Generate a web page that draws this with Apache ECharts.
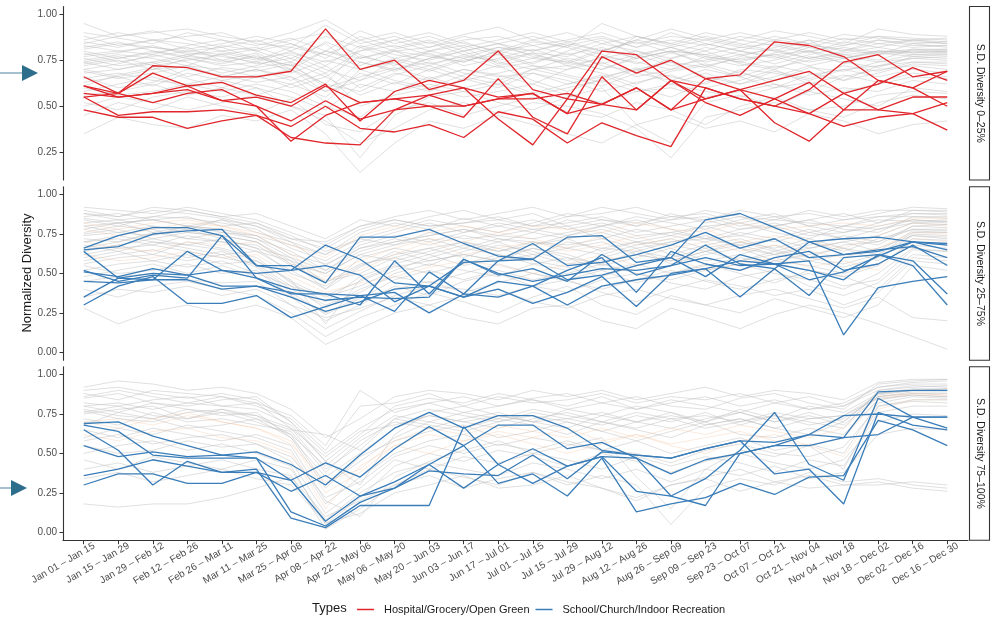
<!DOCTYPE html>
<html><head><meta charset="utf-8">
<script src="https://cdn.jsdelivr.net/npm/echarts@6/dist/echarts.min.js"></script>
<style>html,body{margin:0;padding:0;background:#fff}#c{width:994px;height:621px}</style>
</head><body><div id="c"></div>
<script>
const categories = ['Jan 01 – Jan 15','Jan 15 – Jan 29','Jan 29 – Feb 12','Feb 12 – Feb 26','Feb 26 – Mar 11','Mar 11 – Mar 25','Mar 25 – Apr 08','Apr 08 – Apr 22','Apr 22 – May 06','May 06 – May 20','May 20 – Jun 03','Jun 03 – Jun 17','Jun 17 – Jul 01','Jul 01 – Jul 15','Jul 15 – Jul 29','Jul 29 – Aug 12','Aug 12 – Aug 26','Aug 26 – Sep 09','Sep 09 – Sep 23','Sep 23 – Oct 07','Oct 07 – Oct 21','Oct 21 – Nov 04','Nov 04 – Nov 18','Nov 18 – Dec 02','Dec 02 – Dec 16','Dec 16 – Dec 30'];
const typeNames = ['Hospital/Grocery/Open Green','School/Church/Indoor Recreation'];
const panelLabels = ['S.D. Diversity 0–25%','S.D. Diversity 25–75%','S.D. Diversity 75–100%'];
const yTicksTop = [0.25,0.50,0.75,1.00];
const yTicksAll = [0.00,0.25,0.50,0.75,1.00];

const panel1Gray = [
[0.78,0.80,0.82,0.79,0.77,0.74,0.80,0.72,0.83,0.78,0.75,0.80,0.84,0.77,0.73,0.80,0.85,0.79,0.74,0.78,0.81,0.76,0.80,0.84,0.82,0.83],
[0.72,0.75,0.70,0.76,0.73,0.78,0.68,0.75,0.70,0.74,0.79,0.72,0.76,0.81,0.75,0.70,0.77,0.82,0.76,0.72,0.75,0.80,0.73,0.78,0.80,0.79],
[0.85,0.82,0.86,0.84,0.80,0.82,0.76,0.68,0.80,0.86,0.80,0.83,0.78,0.85,0.82,0.76,0.88,0.84,0.80,0.86,0.83,0.79,0.85,0.82,0.86,0.85],
[0.68,0.70,0.74,0.66,0.71,0.69,0.73,0.60,0.66,0.71,0.65,0.70,0.67,0.62,0.70,0.74,0.66,0.70,0.73,0.68,0.64,0.71,0.69,0.74,0.76,0.75],
[0.90,0.87,0.84,0.90,0.86,0.83,0.87,0.80,0.91,0.84,0.88,0.82,0.86,0.90,0.85,0.80,0.86,0.92,0.87,0.83,0.88,0.84,0.89,0.87,0.86,0.87],
[0.63,0.66,0.61,0.68,0.64,0.60,0.55,0.48,0.62,0.58,0.66,0.60,0.64,0.57,0.62,0.67,0.60,0.55,0.63,0.69,0.62,0.58,0.66,0.70,0.72,0.70],
[0.75,0.78,0.76,0.72,0.79,0.75,0.82,0.78,0.72,0.80,0.77,0.74,0.80,0.76,0.83,0.78,0.73,0.79,0.84,0.80,0.76,0.82,0.78,0.75,0.81,0.80],
[0.80,0.76,0.79,0.82,0.75,0.79,0.70,0.58,0.74,0.69,0.76,0.82,0.73,0.79,0.77,0.84,0.80,0.74,0.71,0.77,0.82,0.86,0.76,0.80,0.78,0.78],
[0.58,0.62,0.66,0.60,0.64,0.67,0.60,0.66,0.56,0.63,0.58,0.65,0.60,0.68,0.64,0.58,0.63,0.67,0.60,0.64,0.70,0.62,0.67,0.63,0.68,0.66],
[0.95,0.88,0.90,0.92,0.88,0.85,0.90,0.97,0.86,0.90,0.84,0.89,0.93,0.86,0.82,0.95,0.88,0.84,0.90,0.86,0.91,0.88,0.84,0.92,0.89,0.88],
[0.70,0.73,0.78,0.74,0.68,0.72,0.78,0.70,0.64,0.75,0.70,0.76,0.71,0.74,0.79,0.72,0.69,0.76,0.80,0.73,0.70,0.77,0.74,0.71,0.77,0.76],
[0.45,0.52,0.48,0.55,0.50,0.46,0.54,0.40,0.36,0.48,0.52,0.45,0.50,0.55,0.47,0.44,0.52,0.48,0.40,0.50,0.55,0.48,0.44,0.52,0.56,0.54],
[0.82,0.85,0.80,0.77,0.83,0.80,0.74,0.85,0.78,0.72,0.80,0.85,0.79,0.73,0.80,0.86,0.78,0.82,0.77,0.74,0.79,0.83,0.81,0.78,0.84,0.82],
[0.66,0.60,0.63,0.70,0.67,0.63,0.66,0.52,0.70,0.64,0.60,0.67,0.72,0.64,0.58,0.65,0.71,0.62,0.68,0.62,0.66,0.72,0.64,0.68,0.73,0.72],
[0.76,0.72,0.74,0.78,0.74,0.77,0.72,0.80,0.76,0.80,0.73,0.77,0.75,0.79,0.72,0.76,0.80,0.76,0.82,0.78,0.73,0.78,0.82,0.79,0.77,0.78],
[0.35,0.44,0.40,0.38,0.45,0.42,0.48,0.35,0.14,0.30,0.42,0.38,0.45,0.40,0.35,0.30,0.40,0.45,0.38,0.42,0.36,0.46,0.42,0.35,0.40,0.42],
[0.88,0.83,0.86,0.81,0.84,0.88,0.84,0.76,0.88,0.82,0.86,0.80,0.84,0.88,0.83,0.87,0.82,0.86,0.83,0.88,0.85,0.82,0.87,0.84,0.86,0.84],
[0.61,0.67,0.71,0.65,0.60,0.66,0.70,0.62,0.58,0.67,0.72,0.66,0.62,0.70,0.66,0.61,0.68,0.64,0.70,0.66,0.60,0.67,0.70,0.66,0.70,0.68],
[0.74,0.77,0.72,0.75,0.78,0.73,0.76,0.84,0.70,0.76,0.72,0.78,0.74,0.70,0.76,0.73,0.78,0.72,0.75,0.80,0.77,0.72,0.76,0.80,0.80,0.81],
[0.52,0.48,0.55,0.58,0.55,0.60,0.50,0.45,0.22,0.45,0.55,0.58,0.52,0.48,0.55,0.60,0.40,0.30,0.52,0.56,0.50,0.58,0.54,0.50,0.60,0.58],
[0.79,0.74,0.77,0.80,0.82,0.76,0.79,0.74,0.80,0.83,0.78,0.74,0.80,0.83,0.78,0.82,0.76,0.80,0.78,0.82,0.80,0.76,0.79,0.82,0.79,0.80],
[0.69,0.65,0.68,0.72,0.70,0.66,0.62,0.55,0.68,0.62,0.70,0.64,0.68,0.72,0.67,0.63,0.70,0.74,0.66,0.62,0.69,0.65,0.72,0.69,0.74,0.73],
[0.84,0.88,0.91,0.86,0.82,0.86,0.80,0.88,0.82,0.86,0.90,0.84,0.80,0.86,0.90,0.84,0.88,0.83,0.88,0.84,0.80,0.86,0.83,0.88,0.85,0.84],
[0.56,0.58,0.62,0.56,0.60,0.56,0.62,0.68,0.50,0.56,0.60,0.55,0.58,0.62,0.56,0.52,0.58,0.60,0.55,0.58,0.62,0.56,0.60,0.58,0.64,0.62],
[0.74,0.70,0.73,0.77,0.75,0.71,0.74,0.66,0.77,0.73,0.69,0.75,0.78,0.72,0.70,0.77,0.74,0.70,0.77,0.74,0.71,0.75,0.78,0.80,0.79,0.80],
[0.81,0.84,0.82,0.80,0.78,0.81,0.86,0.90,0.76,0.81,0.85,0.78,0.82,0.80,0.85,0.88,0.82,0.90,0.84,0.80,0.86,0.84,0.80,0.86,0.83,0.83],
[0.65,0.68,0.64,0.62,0.66,0.70,0.64,0.72,0.60,0.68,0.64,0.70,0.66,0.68,0.62,0.66,0.70,0.66,0.62,0.70,0.68,0.64,0.70,0.72,0.74,0.74],
[0.77,0.79,0.83,0.78,0.80,0.76,0.72,0.62,0.82,0.76,0.80,0.76,0.82,0.78,0.74,0.81,0.76,0.80,0.78,0.75,0.78,0.80,0.76,0.79,0.81,0.81],
[0.70,0.66,0.70,0.72,0.66,0.70,0.66,0.58,0.64,0.70,0.74,0.68,0.64,0.70,0.72,0.68,0.62,0.69,0.72,0.66,0.72,0.68,0.64,0.72,0.76,0.77],
[0.86,0.90,0.86,0.88,0.90,0.84,0.82,0.94,0.84,0.88,0.82,0.86,0.88,0.83,0.86,0.90,0.84,0.88,0.86,0.90,0.86,0.90,0.86,0.88,0.87,0.86],
[0.60,0.56,0.58,0.62,0.58,0.62,0.58,0.50,0.44,0.58,0.62,0.58,0.62,0.56,0.60,0.64,0.58,0.62,0.58,0.55,0.60,0.63,0.58,0.62,0.66,0.65],
[0.73,0.76,0.80,0.76,0.72,0.74,0.70,0.80,0.74,0.70,0.76,0.80,0.72,0.76,0.74,0.70,0.76,0.80,0.72,0.76,0.78,0.74,0.77,0.74,0.78,0.79],
[0.50,0.55,0.52,0.48,0.52,0.56,0.50,0.42,0.30,0.38,0.48,0.52,0.46,0.52,0.50,0.46,0.38,0.22,0.44,0.48,0.52,0.48,0.50,0.56,0.58,0.57],
[0.83,0.80,0.78,0.83,0.86,0.80,0.84,0.78,0.86,0.80,0.82,0.88,0.84,0.80,0.84,0.80,0.86,0.82,0.86,0.82,0.84,0.80,0.83,0.86,0.84,0.85]
];
const panel1Red = [
[0.61,0.57,0.72,0.71,0.66,0.66,0.69,0.92,0.70,0.75,0.59,0.64,0.80,0.59,0.54,0.80,0.78,0.64,0.60,0.54,0.50,0.59,0.74,0.78,0.66,0.69],
[0.66,0.57,0.68,0.61,0.63,0.56,0.52,0.62,0.42,0.58,0.64,0.60,0.55,0.57,0.46,0.77,0.68,0.75,0.65,0.67,0.85,0.83,0.77,0.64,0.60,0.69],
[0.61,0.55,0.57,0.59,0.53,0.55,0.50,0.61,0.52,0.54,0.56,0.50,0.54,0.54,0.57,0.51,0.60,0.48,0.54,0.59,0.64,0.69,0.57,0.62,0.71,0.64],
[0.55,0.57,0.52,0.57,0.59,0.50,0.42,0.53,0.43,0.48,0.50,0.44,0.65,0.44,0.35,0.66,0.48,0.64,0.52,0.45,0.54,0.63,0.48,0.48,0.55,0.55],
[0.55,0.45,0.47,0.47,0.48,0.45,0.39,0.50,0.38,0.36,0.40,0.33,0.47,0.43,0.30,0.41,0.34,0.28,0.60,0.54,0.50,0.46,0.39,0.44,0.46,0.52],
[0.48,0.44,0.44,0.38,0.42,0.45,0.33,0.30,0.29,0.48,0.56,0.60,0.43,0.29,0.54,0.51,0.60,0.48,0.65,0.59,0.41,0.31,0.48,0.64,0.60,0.50],
[0.57,0.55,0.57,0.61,0.53,0.50,0.31,0.45,0.52,0.54,0.50,0.50,0.54,0.57,0.46,0.51,0.48,0.64,0.54,0.59,0.54,0.46,0.57,0.48,0.46,0.37]
];
const panel2Gray = [
[0.80,0.82,0.84,0.80,0.78,0.72,0.60,0.52,0.64,0.70,0.74,0.78,0.72,0.68,0.74,0.78,0.72,0.76,0.80,0.74,0.70,0.76,0.72,0.78,0.84,0.82],
[0.72,0.70,0.75,0.78,0.72,0.66,0.50,0.42,0.55,0.62,0.66,0.60,0.68,0.64,0.58,0.66,0.70,0.62,0.68,0.72,0.65,0.60,0.68,0.70,0.80,0.79],
[0.88,0.86,0.90,0.88,0.85,0.80,0.70,0.62,0.76,0.82,0.78,0.85,0.80,0.76,0.84,0.80,0.86,0.82,0.78,0.84,0.88,0.80,0.76,0.82,0.90,0.89],
[0.65,0.68,0.62,0.70,0.66,0.60,0.44,0.32,0.48,0.56,0.62,0.55,0.60,0.66,0.62,0.55,0.60,0.66,0.58,0.62,0.68,0.60,0.56,0.62,0.74,0.72],
[0.78,0.74,0.78,0.82,0.80,0.74,0.62,0.48,0.58,0.66,0.72,0.70,0.76,0.72,0.66,0.74,0.68,0.72,0.78,0.70,0.74,0.70,0.66,0.74,0.82,0.80],
[0.58,0.62,0.65,0.60,0.64,0.55,0.40,0.30,0.38,0.50,0.56,0.52,0.48,0.56,0.60,0.52,0.56,0.50,0.55,0.60,0.56,0.52,0.48,0.55,0.70,0.68],
[0.84,0.80,0.86,0.85,0.82,0.78,0.66,0.58,0.70,0.76,0.82,0.76,0.80,0.84,0.78,0.82,0.76,0.80,0.84,0.78,0.80,0.84,0.78,0.76,0.86,0.85],
[0.70,0.72,0.68,0.74,0.70,0.68,0.55,0.45,0.50,0.60,0.55,0.64,0.70,0.62,0.66,0.70,0.62,0.58,0.64,0.68,0.62,0.66,0.70,0.64,0.77,0.76],
[0.48,0.52,0.56,0.50,0.55,0.48,0.35,0.20,0.30,0.42,0.36,0.45,0.50,0.42,0.38,0.46,0.50,0.44,0.40,0.48,0.52,0.42,0.36,0.44,0.62,0.60],
[0.92,0.90,0.88,0.92,0.88,0.84,0.76,0.68,0.80,0.86,0.90,0.84,0.88,0.92,0.86,0.88,0.92,0.86,0.84,0.90,0.86,0.88,0.84,0.88,0.92,0.91],
[0.75,0.78,0.72,0.76,0.74,0.70,0.58,0.50,0.62,0.58,0.64,0.70,0.66,0.60,0.70,0.66,0.64,0.70,0.74,0.66,0.62,0.68,0.74,0.70,0.78,0.78],
[0.62,0.58,0.60,0.64,0.60,0.62,0.48,0.38,0.44,0.48,0.54,0.58,0.55,0.50,0.56,0.62,0.55,0.60,0.52,0.56,0.60,0.54,0.58,0.52,0.72,0.70],
[0.82,0.84,0.80,0.78,0.84,0.76,0.70,0.55,0.68,0.74,0.70,0.76,0.82,0.78,0.74,0.80,0.84,0.78,0.72,0.78,0.82,0.76,0.80,0.84,0.83,0.84],
[0.40,0.35,0.42,0.45,0.40,0.36,0.25,0.10,0.22,0.30,0.38,0.32,0.25,0.35,0.42,0.30,0.24,0.36,0.30,0.25,0.34,0.28,0.22,0.30,0.55,0.52],
[0.68,0.64,0.70,0.66,0.62,0.64,0.52,0.40,0.54,0.64,0.58,0.62,0.58,0.66,0.60,0.56,0.64,0.60,0.66,0.58,0.64,0.58,0.62,0.66,0.74,0.73],
[0.86,0.88,0.84,0.86,0.80,0.82,0.74,0.64,0.72,0.78,0.84,0.80,0.76,0.82,0.88,0.84,0.80,0.88,0.82,0.86,0.80,0.84,0.88,0.82,0.88,0.87],
[0.55,0.50,0.52,0.56,0.50,0.52,0.36,0.25,0.35,0.40,0.45,0.38,0.44,0.50,0.45,0.40,0.46,0.52,0.45,0.40,0.46,0.50,0.42,0.46,0.65,0.64],
[0.76,0.80,0.78,0.72,0.76,0.72,0.64,0.52,0.66,0.72,0.68,0.74,0.70,0.76,0.72,0.76,0.70,0.74,0.70,0.76,0.72,0.78,0.72,0.68,0.80,0.81],
[0.64,0.68,0.72,0.68,0.65,0.58,0.45,0.35,0.42,0.52,0.60,0.66,0.62,0.56,0.52,0.60,0.66,0.56,0.62,0.66,0.58,0.62,0.66,0.58,0.75,0.74],
[0.28,0.18,0.26,0.30,0.25,0.30,0.22,0.05,0.15,0.25,0.30,0.22,0.18,0.28,0.30,0.20,0.15,0.28,0.22,0.15,0.24,0.30,0.25,0.18,0.10,0.02],
[0.90,0.86,0.92,0.90,0.86,0.88,0.80,0.72,0.84,0.80,0.86,0.90,0.84,0.80,0.86,0.92,0.88,0.84,0.90,0.86,0.84,0.90,0.86,0.90,0.90,0.90],
[0.70,0.66,0.64,0.70,0.68,0.70,0.56,0.46,0.52,0.62,0.70,0.62,0.66,0.70,0.64,0.68,0.74,0.66,0.70,0.64,0.68,0.64,0.60,0.66,0.76,0.75],
[0.52,0.56,0.58,0.54,0.58,0.50,0.42,0.28,0.40,0.48,0.44,0.50,0.56,0.50,0.46,0.52,0.44,0.50,0.56,0.50,0.44,0.52,0.48,0.40,0.60,0.58],
[0.80,0.76,0.74,0.80,0.78,0.74,0.68,0.62,0.72,0.68,0.76,0.72,0.74,0.78,0.80,0.72,0.78,0.74,0.80,0.82,0.76,0.72,0.80,0.78,0.82,0.83],
[0.60,0.64,0.58,0.62,0.56,0.58,0.46,0.18,0.46,0.55,0.50,0.56,0.62,0.58,0.54,0.48,0.55,0.62,0.56,0.52,0.58,0.55,0.50,0.56,0.68,0.66],
[0.35,0.40,0.38,0.42,0.36,0.40,0.30,0.22,0.28,0.35,0.30,0.36,0.40,0.32,0.28,0.36,0.40,0.34,0.30,0.36,0.40,0.34,0.28,0.35,0.22,0.20],
[0.85,0.82,0.84,0.80,0.84,0.80,0.72,0.66,0.78,0.84,0.80,0.82,0.86,0.80,0.82,0.86,0.80,0.84,0.86,0.80,0.84,0.82,0.80,0.86,0.86,0.86],
[0.66,0.70,0.76,0.72,0.70,0.64,0.58,0.40,0.60,0.66,0.62,0.68,0.64,0.70,0.66,0.62,0.68,0.72,0.66,0.70,0.64,0.70,0.64,0.72,0.78,0.77],
[0.74,0.76,0.80,0.76,0.74,0.70,0.56,0.50,0.62,0.68,0.72,0.66,0.72,0.70,0.68,0.72,0.66,0.70,0.72,0.68,0.72,0.66,0.70,0.74,0.82,0.81],
[0.62,0.66,0.68,0.64,0.60,0.56,0.42,0.36,0.45,0.54,0.58,0.62,0.58,0.62,0.56,0.58,0.62,0.58,0.64,0.58,0.62,0.58,0.54,0.60,0.72,0.71],
[0.82,0.78,0.82,0.84,0.80,0.76,0.68,0.60,0.74,0.80,0.76,0.80,0.76,0.80,0.78,0.76,0.82,0.78,0.76,0.82,0.78,0.80,0.82,0.80,0.85,0.85],
[0.56,0.60,0.62,0.58,0.62,0.54,0.38,0.24,0.34,0.46,0.52,0.46,0.52,0.46,0.50,0.56,0.50,0.46,0.52,0.56,0.50,0.46,0.40,0.50,0.66,0.64],
[0.70,0.74,0.70,0.68,0.72,0.66,0.60,0.44,0.56,0.60,0.66,0.70,0.64,0.68,0.72,0.64,0.70,0.68,0.64,0.70,0.66,0.72,0.66,0.62,0.76,0.76],
[0.88,0.84,0.86,0.90,0.86,0.82,0.72,0.70,0.80,0.84,0.80,0.82,0.84,0.88,0.80,0.84,0.82,0.86,0.88,0.82,0.86,0.80,0.84,0.86,0.88,0.88],
[0.45,0.48,0.50,0.46,0.44,0.45,0.30,0.15,0.26,0.36,0.42,0.40,0.36,0.42,0.46,0.38,0.32,0.40,0.46,0.42,0.36,0.40,0.30,0.38,0.58,0.56],
[0.78,0.82,0.76,0.80,0.76,0.74,0.62,0.56,0.66,0.70,0.74,0.78,0.74,0.72,0.76,0.80,0.74,0.76,0.72,0.74,0.80,0.74,0.76,0.80,0.84,0.83]
];
const panel2Blue = [
[0.65,0.67,0.75,0.77,0.78,0.55,0.55,0.44,0.73,0.73,0.78,0.69,0.61,0.59,0.73,0.74,0.57,0.60,0.84,0.88,0.79,0.70,0.72,0.73,0.70,0.69],
[0.66,0.74,0.79,0.79,0.74,0.55,0.52,0.68,0.59,0.44,0.42,0.57,0.58,0.69,0.55,0.57,0.62,0.68,0.76,0.66,0.72,0.60,0.62,0.64,0.70,0.65],
[0.52,0.45,0.49,0.47,0.74,0.47,0.37,0.37,0.30,0.58,0.37,0.59,0.49,0.53,0.45,0.62,0.49,0.55,0.68,0.56,0.53,0.70,0.62,0.65,0.67,0.60],
[0.51,0.48,0.53,0.49,0.52,0.50,0.52,0.55,0.49,0.32,0.42,0.35,0.45,0.42,0.52,0.60,0.38,0.64,0.56,0.52,0.60,0.64,0.52,0.56,0.68,0.55],
[0.45,0.44,0.46,0.64,0.52,0.47,0.40,0.37,0.36,0.26,0.51,0.37,0.58,0.59,0.46,0.49,0.55,0.60,0.48,0.62,0.56,0.58,0.11,0.41,0.45,0.48],
[0.35,0.47,0.46,0.46,0.40,0.42,0.35,0.26,0.32,0.40,0.42,0.35,0.40,0.31,0.38,0.48,0.29,0.50,0.53,0.35,0.53,0.36,0.60,0.62,0.58,0.37],
[0.30,0.42,0.48,0.31,0.31,0.36,0.22,0.29,0.36,0.38,0.25,0.37,0.35,0.42,0.30,0.42,0.46,0.49,0.53,0.58,0.56,0.52,0.46,0.62,0.55,0.30],
[0.64,0.47,0.50,0.49,0.42,0.42,0.38,0.33,0.35,0.34,0.35,0.59,0.50,0.45,0.49,0.53,0.52,0.55,0.60,0.55,0.56,0.46,0.51,0.61,0.70,0.68]
];
const panel3Gray = [
[0.90,0.92,0.88,0.85,0.88,0.84,0.70,0.45,0.62,0.80,0.85,0.82,0.88,0.84,0.80,0.86,0.78,0.82,0.86,0.80,0.84,0.78,0.82,0.92,0.95,0.96],
[0.75,0.78,0.80,0.72,0.76,0.70,0.62,0.30,0.45,0.60,0.70,0.66,0.72,0.68,0.62,0.70,0.65,0.60,0.68,0.72,0.66,0.62,0.70,0.88,0.90,0.90],
[0.60,0.66,0.62,0.68,0.64,0.60,0.52,0.18,0.35,0.50,0.58,0.62,0.55,0.60,0.56,0.52,0.58,0.50,0.55,0.60,0.52,0.56,0.50,0.82,0.86,0.85],
[0.82,0.80,0.84,0.86,0.80,0.82,0.66,0.40,0.55,0.72,0.78,0.74,0.70,0.76,0.72,0.68,0.74,0.70,0.76,0.68,0.74,0.70,0.66,0.90,0.92,0.93],
[0.18,0.16,0.18,0.18,0.22,0.28,0.35,0.10,0.20,0.30,0.40,0.35,0.30,0.38,0.32,0.28,0.22,0.30,0.35,0.40,0.32,0.36,0.30,0.32,0.28,0.26],
[0.70,0.72,0.68,0.74,0.70,0.66,0.58,0.25,0.38,0.55,0.62,0.58,0.64,0.60,0.66,0.58,0.62,0.56,0.60,0.64,0.58,0.55,0.60,0.84,0.88,0.87],
[0.88,0.84,0.90,0.88,0.86,0.82,0.74,0.55,0.90,0.76,0.82,0.86,0.80,0.85,0.88,0.82,0.86,0.80,0.78,0.85,0.88,0.82,0.78,0.94,0.96,0.97],
[0.50,0.55,0.58,0.52,0.56,0.50,0.42,0.05,0.22,0.42,0.50,0.45,0.52,0.48,0.42,0.50,0.45,0.38,0.45,0.50,0.44,0.40,0.46,0.70,0.75,0.74],
[0.78,0.74,0.72,0.78,0.74,0.76,0.60,0.35,0.50,0.66,0.74,0.70,0.66,0.72,0.76,0.70,0.66,0.72,0.66,0.70,0.74,0.68,0.72,0.86,0.88,0.88],
[0.65,0.60,0.66,0.62,0.58,0.62,0.55,0.20,0.10,0.35,0.45,0.52,0.58,0.50,0.55,0.60,0.35,0.15,0.40,0.52,0.48,0.55,0.40,0.80,0.83,0.82],
[0.92,0.96,0.94,0.90,0.92,0.88,0.78,0.60,0.72,0.86,0.90,0.88,0.84,0.90,0.86,0.90,0.84,0.88,0.92,0.86,0.90,0.88,0.84,0.95,0.97,0.97],
[0.55,0.50,0.52,0.58,0.54,0.56,0.45,0.12,0.28,0.46,0.40,0.48,0.44,0.50,0.46,0.40,0.48,0.42,0.48,0.44,0.38,0.46,0.42,0.76,0.80,0.80],
[0.72,0.68,0.76,0.70,0.72,0.68,0.64,0.38,0.58,0.70,0.66,0.72,0.76,0.70,0.66,0.74,0.70,0.66,0.72,0.76,0.70,0.74,0.68,0.86,0.89,0.89],
[0.40,0.44,0.38,0.42,0.46,0.40,0.36,0.02,0.15,0.30,0.36,0.28,0.34,0.38,0.30,0.36,0.30,0.05,0.28,0.34,0.30,0.38,0.32,0.34,0.30,0.28],
[0.85,0.88,0.82,0.80,0.84,0.86,0.70,0.50,0.66,0.78,0.82,0.76,0.80,0.84,0.78,0.82,0.78,0.84,0.80,0.76,0.82,0.78,0.80,0.90,0.93,0.92],
[0.62,0.58,0.64,0.66,0.60,0.58,0.50,0.15,0.42,0.55,0.50,0.58,0.62,0.56,0.50,0.56,0.62,0.55,0.50,0.58,0.62,0.55,0.48,0.78,0.84,0.84],
[0.80,0.82,0.78,0.82,0.80,0.78,0.68,0.45,0.30,0.62,0.76,0.80,0.74,0.70,0.78,0.74,0.80,0.76,0.70,0.78,0.72,0.80,0.76,0.88,0.91,0.91],
[0.46,0.40,0.48,0.44,0.40,0.46,0.40,0.08,0.25,0.38,0.44,0.40,0.36,0.44,0.40,0.34,0.40,0.32,0.40,0.36,0.42,0.34,0.38,0.62,0.66,0.65],
[0.77,0.72,0.70,0.76,0.78,0.72,0.65,0.62,0.52,0.72,0.68,0.64,0.70,0.74,0.70,0.64,0.70,0.76,0.68,0.72,0.66,0.72,0.74,0.85,0.87,0.86],
[0.68,0.76,0.72,0.66,0.68,0.72,0.60,0.28,0.48,0.58,0.64,0.68,0.60,0.64,0.70,0.64,0.58,0.64,0.70,0.62,0.60,0.66,0.62,0.84,0.87,0.86],
[0.80,0.76,0.82,0.78,0.76,0.74,0.62,0.42,0.60,0.74,0.70,0.76,0.72,0.78,0.74,0.70,0.76,0.72,0.74,0.70,0.76,0.72,0.74,0.87,0.90,0.90],
[0.58,0.62,0.56,0.60,0.62,0.56,0.48,0.22,0.32,0.48,0.55,0.50,0.56,0.52,0.58,0.52,0.50,0.44,0.52,0.56,0.50,0.48,0.54,0.80,0.84,0.84],
[0.86,0.90,0.86,0.82,0.86,0.80,0.72,0.52,0.80,0.82,0.88,0.80,0.86,0.82,0.84,0.88,0.82,0.86,0.84,0.88,0.82,0.86,0.80,0.92,0.94,0.94],
[0.70,0.66,0.72,0.76,0.70,0.66,0.56,0.32,0.40,0.58,0.66,0.62,0.68,0.64,0.60,0.66,0.60,0.66,0.62,0.68,0.64,0.60,0.66,0.86,0.88,0.87],
[0.34,0.38,0.32,0.36,0.40,0.34,0.30,0.06,0.12,0.25,0.30,0.36,0.28,0.30,0.36,0.28,0.20,0.30,0.34,0.26,0.32,0.28,0.30,0.30,0.32,0.30],
[0.76,0.80,0.74,0.72,0.78,0.74,0.66,0.48,0.64,0.68,0.74,0.70,0.74,0.70,0.72,0.76,0.70,0.74,0.70,0.76,0.70,0.76,0.70,0.88,0.90,0.91]
];
const panel3Blue = [
[0.69,0.70,0.61,0.55,0.49,0.51,0.43,0.30,0.49,0.66,0.76,0.66,0.74,0.74,0.66,0.52,0.49,0.47,0.53,0.58,0.57,0.62,0.74,0.75,0.73,0.73],
[0.68,0.64,0.49,0.47,0.47,0.47,0.33,0.44,0.35,0.53,0.67,0.55,0.68,0.68,0.53,0.57,0.47,0.37,0.46,0.50,0.55,0.55,0.60,0.89,0.90,0.90],
[0.65,0.52,0.30,0.45,0.38,0.40,0.09,0.03,0.17,0.17,0.17,0.67,0.43,0.53,0.42,0.48,0.26,0.23,0.34,0.52,0.76,0.43,0.33,0.85,0.73,0.66],
[0.55,0.48,0.51,0.48,0.49,0.47,0.13,0.04,0.19,0.28,0.39,0.37,0.36,0.49,0.34,0.51,0.49,0.47,0.53,0.58,0.37,0.40,0.18,0.76,0.68,0.65],
[0.36,0.40,0.46,0.42,0.38,0.38,0.26,0.36,0.23,0.32,0.43,0.55,0.31,0.37,0.23,0.47,0.13,0.18,0.22,0.31,0.24,0.35,0.36,0.71,0.65,0.55],
[0.30,0.37,0.37,0.31,0.31,0.38,0.33,0.07,0.23,0.28,0.43,0.28,0.43,0.31,0.42,0.48,0.47,0.23,0.17,0.50,0.55,0.62,0.60,0.62,0.73,0.73]
];
const peachIdx2 = [4, 11, 21, 30];
const peachIdx3 = [5, 15, 23];

const FONT = 'Liberation Sans, Arial, sans-serif';
const panelTops = [6.5, 186.7, 366.7];
const panelH = 173.5;
const yRanges = [[0.099, 1.042], [-0.05, 1.05], [-0.05, 1.05]];
const idx = categories.map((c, i) => i);
const labelShift = 0.3;

const grids = panelTops.map(t => ({left: 63, top: t, width: 905, height: panelH}));
const xAxes = panelTops.map((t, k) => ({
  type: 'value', gridIndex: k, min: -0.6, max: 25.6,
  axisLine: {show: k === 2, onZero: false, lineStyle: {color: '#333', width: 1.1}},
  axisTick: {show: k === 2, customValues: idx, length: 4, lineStyle: {color: '#333', width: 1}},
  axisLabel: {show: k === 2, customValues: idx.map(i => i + labelShift), rotate: 30, margin: 5, fontSize: 10, color: '#4d4d4d', fontFamily: FONT,
    formatter: v => categories[Math.round(v - labelShift)]},
  splitLine: {show: false}
}));
const yAxes = yRanges.map((r, k) => {
  const ticks = k === 0 ? yTicksTop : yTicksAll;
  return {
    type: 'value', gridIndex: k, min: r[0], max: r[1],
    axisLine: {show: true, onZero: false, lineStyle: {color: '#333', width: 1.1}},
    axisTick: {show: true, customValues: ticks, length: 3.5, lineStyle: {color: '#333'}},
    axisLabel: {customValues: ticks, fontSize: 10, color: '#4d4d4d', margin: 6, fontFamily: FONT, formatter: v => v.toFixed(2)},
    splitLine: {show: false}
  };
});

const series = [];
function addLines(arr, k, name, style, z) {
  arr.forEach((vals, j) => {
    const ls = typeof style === 'function' ? style(j) : style;
    series.push({
      type: 'line', name: name, xAxisIndex: k, yAxisIndex: k, z: z,
      showSymbol: false, symbol: 'none', silent: true, animation: false,
      lineStyle: ls, itemStyle: {color: ls.color},
      data: vals.map((v, i) => [idx[i], v])
    });
  });
}
const grayStyle = {color: 'rgba(190,190,190,0.68)', width: 0.7};
const peach = {color: 'rgba(244,196,160,0.5)', width: 0.7};
addLines(panel1Gray, 0, 'other', grayStyle, 1);
addLines(panel2Gray, 1, 'other', j => peachIdx2.includes(j) ? peach : grayStyle, 1);
addLines(panel3Gray, 2, 'other', j => peachIdx3.includes(j) ? peach : grayStyle, 1);
addLines(panel1Red, 0, typeNames[0], {color: '#e0262b', width: 1.3}, 5);
addLines(panel2Blue, 1, typeNames[1], {color: '#3a7db8', width: 1.3}, 5);
addLines(panel3Blue, 2, typeNames[1], {color: '#3a7db8', width: 1.3}, 5);

const graphics = [];
panelTops.forEach((t, k) => {
  graphics.push({type: 'rect', shape: {x: 969.5, y: t, width: 20, height: panelH}, style: {fill: '#fff', stroke: '#333', lineWidth: 1.1}});
  graphics.push({type: 'text', x: 979.5, y: t + panelH / 2, rotation: -Math.PI / 2,
    style: {text: panelLabels[k], fontSize: 10.5, fill: '#1a1a1a', align: 'center', verticalAlign: 'middle', fontFamily: FONT}});
});
graphics.push({type: 'text', x: 27, y: 273, rotation: Math.PI / 2,
  style: {text: 'Normalized Diversity', fontSize: 13, fill: '#1a1a1a', align: 'center', verticalAlign: 'middle', fontFamily: FONT}});
graphics.push({type: 'line', shape: {x1: 0, y1: 73, x2: 24, y2: 73}, style: {stroke: '#6a97ae', lineWidth: 1.2}});
graphics.push({type: 'polygon', shape: {points: [[22, 65], [38, 73], [22, 81]]}, style: {fill: '#2c6e8c'}});
graphics.push({type: 'line', shape: {x1: 0, y1: 488, x2: 13, y2: 488}, style: {stroke: '#6a97ae', lineWidth: 1.2}});
graphics.push({type: 'polygon', shape: {points: [[11, 480], [27, 488], [11, 496]]}, style: {fill: '#2c6e8c'}});

const chart = echarts.init(document.getElementById('c'), null, {renderer: 'canvas'});
chart.setOption({
  animation: false,
  backgroundColor: '#fff',
  title: {text: 'Types', left: 312, top: 602, textStyle: {fontSize: 13, fontWeight: 'normal', color: '#1a1a1a', fontFamily: FONT}, padding: 0},
  legend: {data: typeNames, left: 357, top: 604, itemWidth: 17, itemHeight: 1.5, icon: 'rect', itemGap: 6, padding: 0,
    textStyle: {fontSize: 11, color: '#1a1a1a', fontFamily: FONT, padding: [0, 0, 0, 5]}},
  grid: grids, xAxis: xAxes, yAxis: yAxes, series: series, graphic: graphics
});
</script></body></html>
